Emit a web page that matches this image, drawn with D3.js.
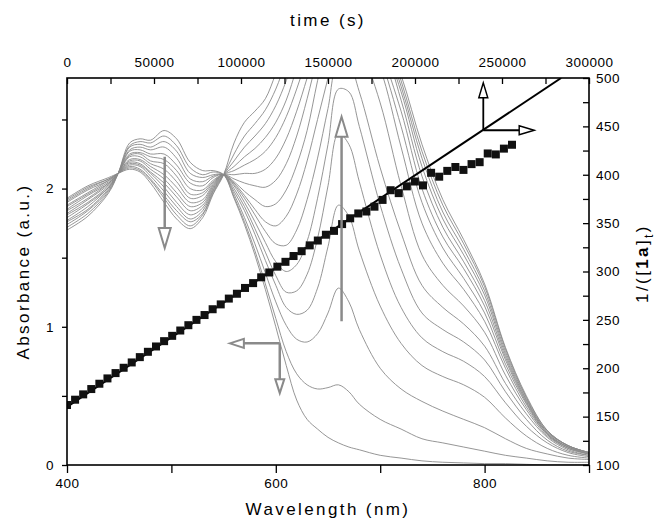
<!DOCTYPE html>
<html>
<head>
<meta charset="utf-8">
<script src="https://cdn.jsdelivr.net/npm/d3@7"></script>
<style>
  body { margin: 0; background: #fff; }
  text { font-family: "Liberation Sans", Arial, sans-serif; }
</style>
</head>
<body>
<div id="chart"></div>
<script>
// === Data ===
const wavelengths = [400, 420, 440, 449, 460, 470, 480, 493, 505, 518, 530, 540, 550,
  560, 570, 580, 590, 600, 610, 620, 630, 640, 650, 660, 670, 680, 700, 720, 740, 760, 780, 800, 820, 840, 860, 880, 900];

// one row per recorded spectrum, first to last
const spectra = [
  [1.70,1.80,1.97,2.11,2.33,2.36,2.35,2.42,2.36,2.19,2.13,2.13,2.10, 1.93,1.74,1.52,1.27,1.00,0.72,0.47,0.33,0.26,0.20,0.16,0.13,0.11,0.07,0.05,0.03,0.02,0.015,0.01,0.01,0.005,0,0,0],
  [1.72,1.82,1.98,2.11,2.31,2.34,2.33,2.38,2.31,2.15,2.10,2.12,2.10, 1.94,1.76,1.55,1.31,1.06,0.82,0.66,0.58,0.55,0.56,0.58,0.53,0.44,0.33,0.26,0.19,0.16,0.13,0.10,0.07,0.05,0.03,0.02,0.02],
  [1.74,1.84,1.99,2.11,2.30,2.32,2.30,2.34,2.27,2.11,2.08,2.10,2.10, 1.96,1.79,1.60,1.39,1.18,1.01,0.91,0.89,0.95,1.10,1.28,1.18,0.98,0.70,0.55,0.46,0.39,0.33,0.27,0.19,0.12,0.08,0.05,0.04],
  [1.76,1.85,2.00,2.11,2.28,2.30,2.28,2.30,2.22,2.07,2.05,2.09,2.10, 1.98,1.84,1.67,1.48,1.30,1.14,1.09,1.12,1.28,1.58,1.88,1.80,1.55,1.15,0.88,0.72,0.64,0.58,0.49,0.34,0.21,0.12,0.07,0.05],
  [1.77,1.87,2.01,2.11,2.27,2.28,2.25,2.25,2.17,2.04,2.02,2.08,2.10, 2.00,1.87,1.71,1.54,1.37,1.25,1.26,1.38,1.64,2.02,2.40,2.32,2.05,1.52,1.14,0.92,0.82,0.75,0.64,0.45,0.28,0.16,0.09,0.06],
  [1.79,1.89,2.01,2.11,2.25,2.26,2.23,2.21,2.13,2.00,1.99,2.06,2.10, 2.02,1.90,1.76,1.61,1.47,1.40,1.45,1.62,1.93,2.32,2.72,2.70,2.45,1.88,1.42,1.10,0.98,0.89,0.76,0.53,0.33,0.18,0.10,0.07],
  [1.81,1.90,2.02,2.11,2.24,2.25,2.20,2.18,2.09,1.96,1.97,2.05,2.10, 2.03,1.93,1.81,1.69,1.60,1.59,1.70,1.92,2.22,2.58,2.92,2.90,2.70,2.15,1.68,1.30,1.14,1.02,0.86,0.59,0.37,0.20,0.11,0.07],
  [1.82,1.92,2.03,2.11,2.23,2.23,2.18,2.14,2.05,1.93,1.95,2.04,2.10, 2.04,1.95,1.85,1.76,1.73,1.80,1.96,2.20,2.50,2.80,3.10,3.20,3.05,2.62,2.02,1.52,1.30,1.15,0.96,0.65,0.40,0.21,0.12,0.08],
  [1.84,1.93,2.04,2.11,2.21,2.21,2.16,2.10,2.01,1.90,1.92,2.03,2.10, 2.05,1.98,1.92,1.87,1.89,1.99,2.17,2.42,2.78,3.10,3.30,3.30,3.20,2.87,2.30,1.75,1.46,1.27,1.04,0.70,0.42,0.22,0.12,0.08],
  [1.85,1.95,2.04,2.11,2.20,2.20,2.14,2.07,1.97,1.87,1.90,2.02,2.10, 2.07,2.04,2.02,2.01,2.06,2.18,2.38,2.65,2.95,3.20,3.30,3.30,3.30,2.95,2.45,1.90,1.57,1.35,1.10,0.73,0.44,0.22,0.13,0.08],
  [1.87,1.96,2.05,2.11,2.19,2.18,2.12,2.04,1.94,1.84,1.88,2.01,2.10, 2.10,2.11,2.11,2.14,2.22,2.36,2.56,2.80,3.05,3.30,3.30,3.30,3.30,3.00,2.56,2.00,1.65,1.42,1.15,0.76,0.45,0.23,0.13,0.08],
  [1.88,1.97,2.06,2.11,2.18,2.17,2.11,2.01,1.90,1.81,1.86,2.00,2.10, 2.13,2.17,2.21,2.27,2.37,2.52,2.72,2.95,3.20,3.30,3.30,3.30,3.30,3.10,2.64,2.09,1.72,1.47,1.19,0.78,0.46,0.23,0.13,0.09],
  [1.90,1.99,2.06,2.11,2.17,2.16,2.09,1.98,1.87,1.78,1.84,1.99,2.10, 2.16,2.23,2.29,2.37,2.48,2.64,2.87,3.10,3.30,3.30,3.30,3.30,3.30,3.10,2.70,2.16,1.78,1.52,1.23,0.80,0.47,0.24,0.14,0.09],
  [1.91,2.00,2.07,2.11,2.16,2.14,2.07,1.95,1.84,1.76,1.82,1.98,2.10, 2.20,2.30,2.38,2.47,2.60,2.78,3.00,3.20,3.30,3.30,3.30,3.30,3.30,3.15,2.74,2.22,1.83,1.56,1.26,0.82,0.48,0.24,0.14,0.09],
  [1.92,2.01,2.07,2.11,2.15,2.13,2.06,1.93,1.81,1.73,1.81,1.97,2.10, 2.25,2.38,2.47,2.57,2.72,2.92,3.10,3.30,3.30,3.30,3.30,3.30,3.30,3.20,2.78,2.27,1.88,1.60,1.29,0.84,0.49,0.25,0.14,0.09],
  [1.93,2.02,2.08,2.11,2.14,2.12,2.04,1.90,1.78,1.71,1.79,1.96,2.10, 2.33,2.48,2.56,2.65,2.83,3.00,3.20,3.30,3.30,3.30,3.30,3.30,3.30,3.20,2.82,2.32,1.92,1.63,1.31,0.85,0.50,0.25,0.14,0.09]
];

// second-order plot: time (s) vs 1/[1a]
const times = [0, 4650, 9300, 13950, 18600, 23250, 27900, 32550, 37200, 41850, 46500, 51150, 55800, 60450,
  65100, 69750, 74400, 79050, 83700, 88350, 93000, 97650, 102300, 106950, 111600, 116250, 120900, 125550,
  130200, 134850, 139500, 144150, 148800, 153450, 158100, 162750, 167400, 172050, 176700, 181350, 186000,
  190650, 195300, 199950, 204600, 209250, 213900, 218550, 223200, 227850, 232500, 237150, 241800, 246450,
  251100, 255750];
const inverseConc = [162, 167.5, 173, 178.5, 184, 189.5, 195, 200.5, 206, 211.5, 217, 222.5, 228, 233.5,
  239, 244.5, 250, 255, 261, 266, 272, 277, 283, 288, 294, 299, 305, 310,
  316, 321, 327, 332, 338, 342, 349, 355, 360, 362, 367, 374, 384,
  381, 388, 393, 389, 402, 398, 404, 408, 405, 411, 413, 422, 421,
  427, 431];
const fitTimes = [0, 284000];
const fitValues = [160, 500];

// axis ticks
const wlTicks = [400, 500, 600, 700, 800, 900];
const wlLabels = [400, 600, 800];
const absTicks = [0, 0.5, 1, 1.5, 2, 2.5];
const absLabels = [0, 1, 2];
const timeTicks = [0, 25000, 50000, 75000, 100000, 125000, 150000, 175000, 200000, 225000, 250000, 275000, 300000];
const timeLabels = [0, 50000, 100000, 150000, 200000, 250000, 300000];
const rateTicks = [100, 125, 150, 175, 200, 225, 250, 275, 300, 325, 350, 375, 400, 425, 450, 475, 500];
const rateLabels = [100, 150, 200, 250, 300, 350, 400, 450, 500];

// === Layout ===
const margin = { top: 78, right: 67, bottom: 55, left: 67 };
const width = 522;
const height = 387;
const grey = "#8a8a8a";

const svg = d3.select("#chart").append("svg")
  .attr("width", width + margin.left + margin.right)
  .attr("height", height + margin.top + margin.bottom);

const g = svg.append("g").attr("transform", `translate(${margin.left},${margin.top})`);

g.append("clipPath").attr("id", "clip")
  .append("rect").attr("width", width).attr("height", height);

// === Scales ===
const x = d3.scaleLinear().domain([400, 900]).range([0, width]);
const y = d3.scaleLinear().domain([0, 2.8]).range([height, 0]);
const xT = d3.scaleLinear().domain([0, 300000]).range([0, width]);
const yR = d3.scaleLinear().domain([100, 500]).range([height, 0]);

// === Spectra ===
const line = d3.line()
  .x((d, i) => x(wavelengths[i]))
  .y(d => y(d))
  .curve(d3.curveCatmullRom.alpha(0.5));

const plot = g.append("g").attr("clip-path", "url(#clip)");

plot.selectAll("path.spec")
  .data(spectra)
  .join("path")
  .attr("class", "spec")
  .attr("d", line)
  .attr("fill", "none")
  .attr("stroke", grey)
  .attr("stroke-width", 0.9);

// === Fit line and points ===
plot.append("path")
  .datum(fitTimes.map((t, i) => [t, fitValues[i]]))
  .attr("d", d3.line().x(d => xT(d[0])).y(d => yR(d[1])))
  .attr("stroke", "#000")
  .attr("stroke-width", 2)
  .attr("fill", "none");

plot.selectAll("rect.pt")
  .data(times)
  .join("rect")
  .attr("class", "pt")
  .attr("x", d => xT(d) - 4)
  .attr("y", (d, i) => yR(inverseConc[i]) - 4)
  .attr("width", 8)
  .attr("height", 8)
  .attr("fill", "#111");

// === Arrows ===
function arrow(x1, y1, x2, y2, color, w, headLen, headW) {
  const a = Math.atan2(y2 - y1, x2 - x1);
  const bx = x2 - headLen * Math.cos(a), by = y2 - headLen * Math.sin(a);
  const px = -Math.sin(a) * headW / 2, py = Math.cos(a) * headW / 2;
  g.append("line")
    .attr("x1", x1).attr("y1", y1).attr("x2", bx).attr("y2", by)
    .attr("stroke", color).attr("stroke-width", w);
  g.append("path")
    .attr("d", `M${x2},${y2}L${bx + px},${by + py}L${bx - px},${by - py}Z`)
    .attr("fill", "#fff")
    .attr("stroke", color)
    .attr("stroke-width", w * 0.8)
    .attr("stroke-linejoin", "miter");
}

// absorbance decrease at 493 nm, growth at 663 nm
arrow(x(493.6), y(2.23), x(493.6), y(1.57), grey, 2.5, 20, 12);
arrow(x(663), y(1.04), x(663), y(2.52), grey, 2.5, 20, 12);
// which axes belong to the spectra
arrow(x(603.8), y(0.88), x(556), y(0.88), grey, 2.5, 14, 9);
arrow(x(603.8), y(0.88), x(603.8), y(0.52), grey, 2.5, 14, 9);
// which axes belong to the kinetics
arrow(xT(239250), yR(446), xT(239250), yR(495), "#000", 1.8, 15, 9);
arrow(xT(239250), yR(446), xT(268500), yR(446), "#000", 1.8, 15, 9);

// === Axes ===
const fmt = labels => d => labels.includes(d) ? d : "";

g.append("g")
  .attr("transform", `translate(0,${height})`)
  .call(d3.axisBottom(x).tickValues(wlTicks).tickFormat(fmt(wlLabels)).tickSize(8).tickPadding(5));

g.append("g")
  .call(d3.axisLeft(y).tickValues(absTicks).tickFormat(fmt(absLabels)).tickSize(5).tickPadding(8));

g.append("g")
  .call(d3.axisTop(xT).tickValues(timeTicks).tickFormat(fmt(timeLabels)).tickSize(-6).tickPadding(11));

g.append("g")
  .attr("transform", `translate(${width},0)`)
  .call(d3.axisRight(yR).tickValues(rateTicks).tickFormat(fmt(rateLabels)).tickSize(-6).tickPadding(7));

g.selectAll(".domain").remove();
g.selectAll(".tick line").attr("stroke", "#000").attr("stroke-width", 1.3);
g.selectAll(".tick text")
  .attr("fill", "#000")
  .style("font-size", "13.5px")
  .style("letter-spacing", "0.5px")
  .style("font-family", "'Liberation Sans', Arial, sans-serif");

g.append("rect")
  .attr("width", width)
  .attr("height", height)
  .attr("fill", "none")
  .attr("stroke", "#000")
  .attr("stroke-width", 1.6);

// === Labels ===
const title = sel => sel
  .attr("text-anchor", "middle")
  .style("font-size", "17px")
  .style("letter-spacing", "2.4px")
  .attr("fill", "#000");

svg.append("text").call(title)
  .attr("x", margin.left + width / 2).attr("y", 26)
  .text("time (s)");

svg.append("text").call(title)
  .attr("x", margin.left + width / 2).attr("y", 515)
  .text("Wavelength (nm)");

svg.append("text").call(title)
  .attr("transform", `translate(29,${margin.top + height / 2}) rotate(-90)`)
  .text("Absorbance (a.u.)");

const rt = svg.append("text").call(title)
  .attr("transform", `translate(648,${margin.top + height / 2 - 8}) rotate(-90)`);
rt.append("tspan").text("1/([");
rt.append("tspan").style("font-weight", "bold").text("1a");
rt.append("tspan").text("]");
rt.append("tspan").attr("dy", 5).style("font-size", "12px").text("t");
rt.append("tspan").attr("dy", -5).text(")");
</script>
</body>
</html>
